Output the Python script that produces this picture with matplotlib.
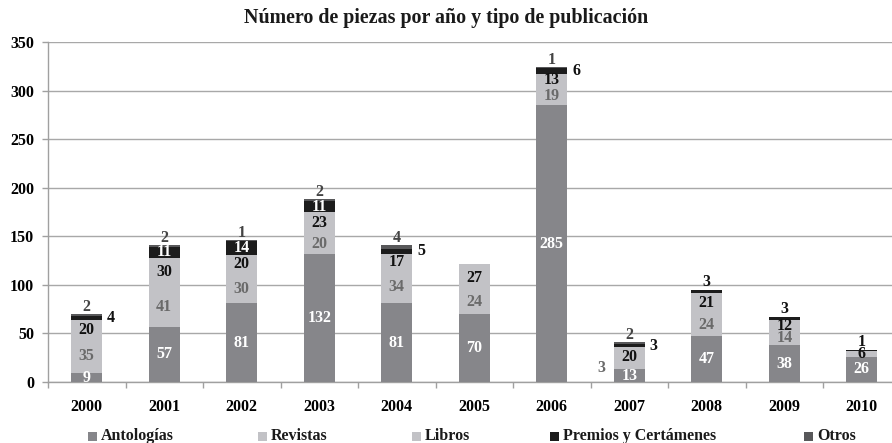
import matplotlib
matplotlib.use("Agg")
import matplotlib.pyplot as plt
from matplotlib.patches import Rectangle
import numpy as np

years = ["2000", "2001", "2002", "2003", "2004", "2005", "2006", "2007", "2008", "2009", "2010"]
antologias = [9, 57, 81, 132, 81, 70, 285, 13, 47, 38, 26]
revistas = [35, 41, 30, 20, 34, 24, 19, 3, 24, 14, 0]
libros = [20, 30, 20, 23, 17, 27, 13, 20, 21, 12, 6]
premios = [4, 11, 14, 11, 5, 0, 6, 3, 3, 3, 1]
otros = [2, 2, 1, 2, 4, 0, 1, 2, 0, 0, 0]
series_names = ["Antologías", "Revistas", "Libros", "Premios y Certámenes", "Otros"]
title = "Número de piezas por año y tipo de publicación"

colors = ["#86868a", "#c2c2c6", "#c2c2c6", "#1c1c1c", "#58585a"]
label_colors = ["#ffffff", "#6a6a6a", "#111111", "#ffffff", "#444444"]

plt.rcParams['font.family'] = ['Liberation Serif', 'DejaVu Serif']
plt.rcParams['font.weight'] = 'bold'

W, H = 892, 443
fig = plt.figure(figsize=(W / 100, H / 100), dpi=100)
left, right, bottom, top = 48, 900.5, 382, 42
ax = fig.add_axes([left / W, 1 - bottom / H, (right - left) / W, (bottom - top) / H])

x = np.arange(len(years))
width = 0.4
data = [antologias, revistas, libros, premios, otros]
bottoms = np.zeros(len(years))
for vals, col, name in zip(data, colors, series_names):
    ax.bar(x, vals, width, bottom=bottoms, color=col, edgecolor='none', label=name, zorder=3)
    bottoms = bottoms + np.array(vals)

ax.set_xlim(-0.5, len(years) - 0.5)
ax.set_ylim(0, 350)
ax.set_yticks(np.arange(0, 351, 50))
ax.yaxis.grid(True, color='#a8a8a8', linewidth=1.0, zorder=0)
ax.set_axisbelow(True)
for s in ['top', 'right']:
    ax.spines[s].set_visible(False)
ax.spines['left'].set_color('#a0a0a0')
ax.spines['bottom'].set_color('#a0a0a0')
ax.spines['left'].set_linewidth(1.0)
ax.spines['bottom'].set_linewidth(1.0)
ax.set_xticks(x)
ax.set_xticklabels(years)
ax.set_xticks(np.arange(-0.5, len(years)), minor=True)
ax.tick_params(axis='x', which='major', length=0, pad=12, labelsize=11.5)
ax.tick_params(axis='x', which='minor', length=4, color='#a0a0a0', width=1)
ax.tick_params(axis='y', length=4, color='#a0a0a0', width=1, pad=6, labelsize=11.5)
for lab in ax.get_xticklabels() + ax.get_yticklabels():
    lab.set_fontweight('bold')

fs = 11.5
cum = np.zeros(len(years))
for si, vals in enumerate(data):
    for i, v in enumerate(vals):
        if v == 0:
            continue
        base = cum[i]
        mid = base + v / 2
        top_val = base + v
        if si == 4:
            ax.annotate(str(v), (x[i], bottoms[i]), xytext=(0, 5), textcoords='offset points',
                        ha='center', va='center', fontsize=fs, color=label_colors[4], fontweight='bold')
        elif si == 3 and v < 10:
            if otros[i] > 0:
                ax.annotate(str(v), (x[i] + width / 2, mid), xytext=(3.5, 0), textcoords='offset points',
                            ha='left', va='center', fontsize=fs, color='#111111', fontweight='bold')
            else:
                ax.annotate(str(v), (x[i], top_val), xytext=(0, 5.5), textcoords='offset points',
                            ha='center', va='center', fontsize=fs, color='#111111', fontweight='bold')
        elif si == 1 and v < 5:
            ax.annotate(str(v), (x[i] - width / 2, mid), xytext=(-6, 0), textcoords='offset points',
                        ha='right', va='center', fontsize=fs, color=label_colors[1], fontweight='bold')
        else:
            ax.text(x[i], mid, str(v), ha='center', va='center', fontsize=fs,
                    color=label_colors[si], fontweight='bold', zorder=4)
    cum = cum + np.array(vals)

fig.text(446 / W, 1 - 18 / H, title, ha='center', va='center', fontsize=14.4, fontweight='bold', color='#1a1a1a')

# legend
leg_sq = [88, 258, 412, 550, 804]
for px, col, name in zip(leg_sq, colors, series_names):
    fig.patches.append(Rectangle((px / W, 1 - 441 / H), 9 / W, 9 / H, transform=fig.transFigure,
                                 facecolor=col, edgecolor='none'))
    fig.text((px + 13) / W, 1 - 436 / H, name, ha='left', va='center', fontsize=11.5,
             fontweight='bold', color='#1a1a1a')

fig.savefig("out.png", dpi=100)
